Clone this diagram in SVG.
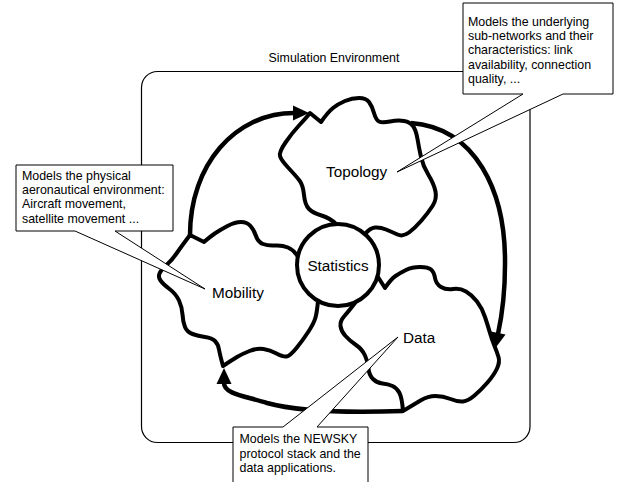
<svg xmlns="http://www.w3.org/2000/svg" width="621" height="482" viewBox="0 0 621 482">
<style>
.blob{fill:none;stroke:#000;stroke-width:4;stroke-linejoin:round;stroke-linecap:round}
.conn{fill:none;stroke:#000;stroke-width:4.5;marker-end:url(#arr)}
.lbl{font-family:"Liberation Sans",Arial,sans-serif;font-size:15.3px;fill:#000}
.note{font-family:"Liberation Sans",Arial,sans-serif;font-size:12.4px;fill:#000}
.callout{fill:#fff;stroke:#000;stroke-width:1}
.frame{fill:none;stroke:#000;stroke-width:1.2}
</style>
<defs>
<marker id="arr" markerUnits="userSpaceOnUse" markerWidth="18" markerHeight="16" refX="1" refY="7.5" orient="auto" overflow="visible">
<path d="M0,0 L16,7.5 L0,15 Z" fill="#000"/>
</marker>
</defs>
<rect width="621" height="482" fill="#fff"/>
<g id="simulation-environment">
<rect class="frame" x="141.5" y="71.5" width="388.5" height="371" rx="16"/>
<text class="note" x="334" y="62" text-anchor="middle">Simulation Environment</text>
</g>
<g id="topology">
<path class="blob" d="M336,224 Q330,218 321.5,215.5 Q313,213 309,209 Q305,205 304,195 Q303,185 299.5,180.5 Q296,176 288.5,168 Q281,160 280,156 Q279,152 285.5,142.5 Q292,133 299,125.5 Q306,118 310,113 L321,122 Q328,112 333,108 Q338,104 345,101 Q352,98 359,98 Q366,98 369,102 Q372,106 374,113 Q376,120 379,121.5 Q382,123 390,121.5 Q398,120 404,121 Q410,122 413,126 Q416,130 417.5,139 Q419,148 421,157 Q423,166 428.5,175 Q434,184 435.5,191.5 Q437,199 432.5,206 Q428,213 421.5,220.5 Q415,228 409,232.5 Q403,237 397.5,234.5 Q392,232 386,229.5 Q380,227 375,227.5 Q370,228 365,234"/>
<text class="lbl" x="326" y="177">Topology</text>
</g>
<g id="mobility">
<path class="blob" d="M298,257 Q294,250 288,247.5 Q282,245 275,245.5 Q268,246 263,244 Q258,242 256,236 Q254,230 250.5,226 Q247,222 241,222 Q235,222 227.5,226 Q220,230 215.5,233 Q211,236 204,242 L190,235 Q181,247 176.5,253.5 Q172,260 166.5,265 Q161,270 159.5,273.5 Q158,277 160.5,280.5 Q163,284 169.5,289 Q176,294 179,300.5 Q182,307 182.5,314.5 Q183,322 185,327 Q187,332 192.5,334 Q198,336 205,337 Q212,338 215,341 Q218,344 219,349.5 Q220,355 223,366 Q232,360 237,357 Q242,354 249.5,351 Q257,348 263.5,349 Q270,350 276.5,353.5 Q283,357 286.5,356.5 Q290,356 296.5,348 Q303,340 308.5,331.5 Q314,323 315.5,317.5 Q317,312 318,301"/>
<text class="lbl" x="212" y="298">Mobility</text>
</g>
<g id="data">
<path class="blob" d="M378,277 L385,288 Q391,279 395.5,276 Q400,273 406,270 Q412,267 420,267 Q428,267 431,269.5 Q434,272 435,278 Q436,284 441,287 Q446,290 453,289 Q460,288 466,291.5 Q472,295 477,301.5 Q482,308 485,317 Q488,326 490,333 Q492,340 494.5,346 Q497,352 498.5,357 Q500,362 497,368.5 Q494,375 487.5,382.5 Q481,390 474.5,395.5 Q468,401 463,401.5 Q458,402 450.5,399 Q443,396 435.5,396 Q428,396 420.5,400.5 Q413,405 403,411 Q402,398 399.5,393 Q397,388 392.5,386 Q388,384 382.5,383.5 Q377,383 373,379 Q369,375 368.5,368.5 Q368,362 365,355.5 Q362,349 356,345 Q350,341 345.5,336 Q341,331 340.5,326 Q340,321 344,316.5 Q348,312 355,303"/>
<text class="lbl" x="403" y="343">Data</text>
</g>
<g id="statistics">
<circle cx="338" cy="265" r="41" fill="#fff" stroke="#000" stroke-width="4"/>
<text class="lbl" x="338" y="271" text-anchor="middle">Statistics</text>
</g>
<g id="connectors">
<path class="conn" d="M190,235 C190,165 235,113 294,113"/>
<path class="conn" d="M411,123 C475,128 506,190 505,265 C505,300 501,320 498,334"/>
<path class="conn" d="M403,411 C350,413 300,412 267,403 C245,396 224,394 224,383"/>
</g>
<g id="note-topology">
<path class="callout" d="M463,3 H613 V94 H563 L397,172 L523,94 H463 Z"/>
<text class="note" x="468" y="26">Models the underlying</text>
<text class="note" x="468" y="40.2">sub-networks and their</text>
<text class="note" x="468" y="54.4">characteristics: link</text>
<text class="note" x="468" y="68.6">availability, connection</text>
<text class="note" x="468" y="82.8">quality, ...</text>
</g>
<g id="note-mobility">
<path class="callout" d="M16,165 H173 V231 H115 L205,289 L75,231 H16 Z"/>
<text class="note" x="22" y="180">Models the physical</text>
<text class="note" x="22" y="194.2">aeronautical environment:</text>
<text class="note" x="22" y="208.4">Aircraft movement,</text>
<text class="note" x="22" y="222.6">satellite movement ...</text>
</g>
<g id="note-data">
<path class="callout" d="M233,427 H283 L398,337 L317,427 H368 V490 H233 Z"/>
<text class="note" x="239.5" y="443.3">Models the NEWSKY</text>
<text class="note" x="239.5" y="457.5">protocol stack and the</text>
<text class="note" x="239.5" y="471.7">data applications.</text>
</g>
</svg>
